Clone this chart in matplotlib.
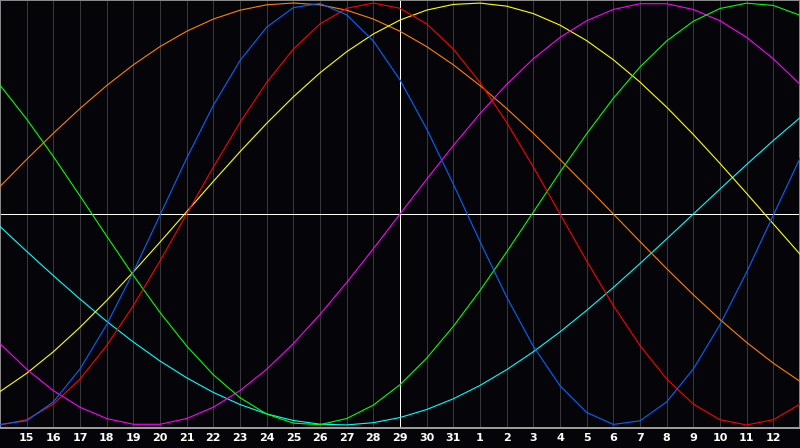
import matplotlib
matplotlib.use("Agg")
import matplotlib.pyplot as plt
import numpy as np

# Day labels under the grid lines (day index 1..29), today = index 15 (label 29)
day_labels = ["15", "16", "17", "18", "19", "20", "21", "22", "23", "24", "25", "26",
              "27", "28", "29", "30", "31", "1", "2", "3", "4", "5", "6", "7", "8",
              "9", "10", "11", "12"]
today_index = 15

# Values at each day index 0..30 (range -1..1)
blue = [-0.9973, -0.9802, -0.8904, -0.7343, -0.5242, -0.2750, -0.0054, 0.2646, 0.5150,
        0.7273, 0.8854, 0.9780, 0.9980, 0.9441, 0.8201, 0.6352, 0.4033, 0.1416, -0.1309,
        -0.3935, -0.6269, -0.8138, -0.9405, -0.9973, -0.9802, -0.8904, -0.7343, -0.5242,
        -0.2750, -0.0054, 0.2646]
red = [-1.0, -0.9749, -0.9010, -0.7818, -0.6235, -0.4339, -0.2225, 0.0, 0.2225, 0.4339,
       0.6235, 0.7818, 0.9010, 0.9749, 1.0, 0.9749, 0.9010, 0.7818, 0.6235, 0.4339,
       0.2225, 0.0, -0.2225, -0.4339, -0.6235, -0.7818, -0.9010, -0.9749, -1.0, -0.9749,
       -0.9010]
green = [0.6106, 0.4498, 0.2726, 0.0856, -0.1045, -0.2909, -0.4667, -0.6256, -0.7618,
         -0.8706, -0.9480, -0.9911, -0.9984, -0.9695, -0.9056, -0.8090, -0.6831, -0.5325,
         -0.3628, -0.1798, 0.0094, 0.1985, 0.3804, 0.5485, 0.6969, 0.8201, 0.9135, 0.9740,
         0.9993, 0.9884, 0.9418]
magenta = [-0.6142, -0.7357, -0.8371, -0.9158, -0.9694, -0.9966, -0.9966, -0.9694, -0.9158,
           -0.8371, -0.7357, -0.6142, -0.4759, -0.3247, -0.1646, 0.0, 0.1646, 0.3247,
           0.4759, 0.6142, 0.7357, 0.8371, 0.9158, 0.9694, 0.9966, 0.9966, 0.9694, 0.9158,
           0.8371, 0.7357, 0.6142]
yellow = [-0.8416, -0.7550, -0.6529, -0.5370, -0.4100, -0.2744, -0.1333, 0.0108, 0.1547,
          0.2952, 0.4297, 0.5551, 0.6691, 0.7691, 0.8531, 0.9193, 0.9664, 0.9933, 0.9996,
          0.9850, 0.9499, 0.8951, 0.8216, 0.7310, 0.6251, 0.5062, 0.3769, 0.2396, 0.0974,
          -0.0469, -0.1903]
orange = [0.1305, 0.2588, 0.3827, 0.5, 0.6088, 0.7071, 0.7934, 0.8660, 0.9239, 0.9659,
          0.9914, 1.0, 0.9914, 0.9659, 0.9239, 0.8660, 0.7934, 0.7071, 0.6088, 0.5,
          0.3827, 0.2588, 0.1305, 0.0, -0.1305, -0.2588, -0.3827, -0.5, -0.6088, -0.7071,
          -0.7934]
cyan = [-0.0593, -0.1769, -0.2920, -0.4031, -0.5086, -0.6068, -0.6966, -0.7764, -0.8456,
        -0.9028, -0.9473, -0.9785, -0.9961, -0.9996, -0.9890, -0.9646, -0.9267, -0.8757,
        -0.8125, -0.7378, -0.6528, -0.5586, -0.4566, -0.3482, -0.2348, -0.1182, 0.0,
        0.1182, 0.2348, 0.3482, 0.4566]

series = [
    (cyan, "#00ffff"),
    (orange, "#ff8000"),
    (yellow, "#ffff00"),
    (magenta, "#ff00ff"),
    (green, "#00ff00"),
    (red, "#ff0000"),
    (blue, "#0066ff"),
]

bg = "#050509"
fig = plt.figure(figsize=(8.0, 4.48), dpi=100, facecolor=bg)
ax = fig.add_axes([0.0, 20 / 448, 1.0, 428 / 448])
ax.set_facecolor(bg)

n_days = len(blue)
x = np.arange(n_days)
px = 0.72

for k in range(1, n_days - 1):
    ax.axvline(k, color="#38383c", lw=px, zorder=1, antialiased=False)

ax.axhline(0, color="white", lw=px, zorder=2, antialiased=False)
ax.axvline(today_index, color="white", lw=px, zorder=2, antialiased=False)

for vals, col in series:
    ax.plot(x, vals, color=col, lw=0.8, zorder=3, antialiased=True,
            solid_joinstyle="round")

ax.set_xlim(0, n_days - 1)
lim = 214 / 211
ax.set_ylim(-lim, lim)

ax.set_xticks(range(1, n_days - 1))
ax.set_xticklabels(day_labels, color="white", fontsize=8, fontweight="bold",
                   family="DejaVu Sans")
ax.tick_params(axis="x", length=0, pad=3.5)
ax.set_yticks([])

for side in ["left", "top", "right"]:
    ax.spines[side].set_color("#8c8c8c")
    ax.spines[side].set_linewidth(1.4)
ax.spines["bottom"].set_color("#a0a0a0")
ax.spines["bottom"].set_linewidth(1.4)

fig.savefig("out.png", dpi=100, facecolor=bg)
